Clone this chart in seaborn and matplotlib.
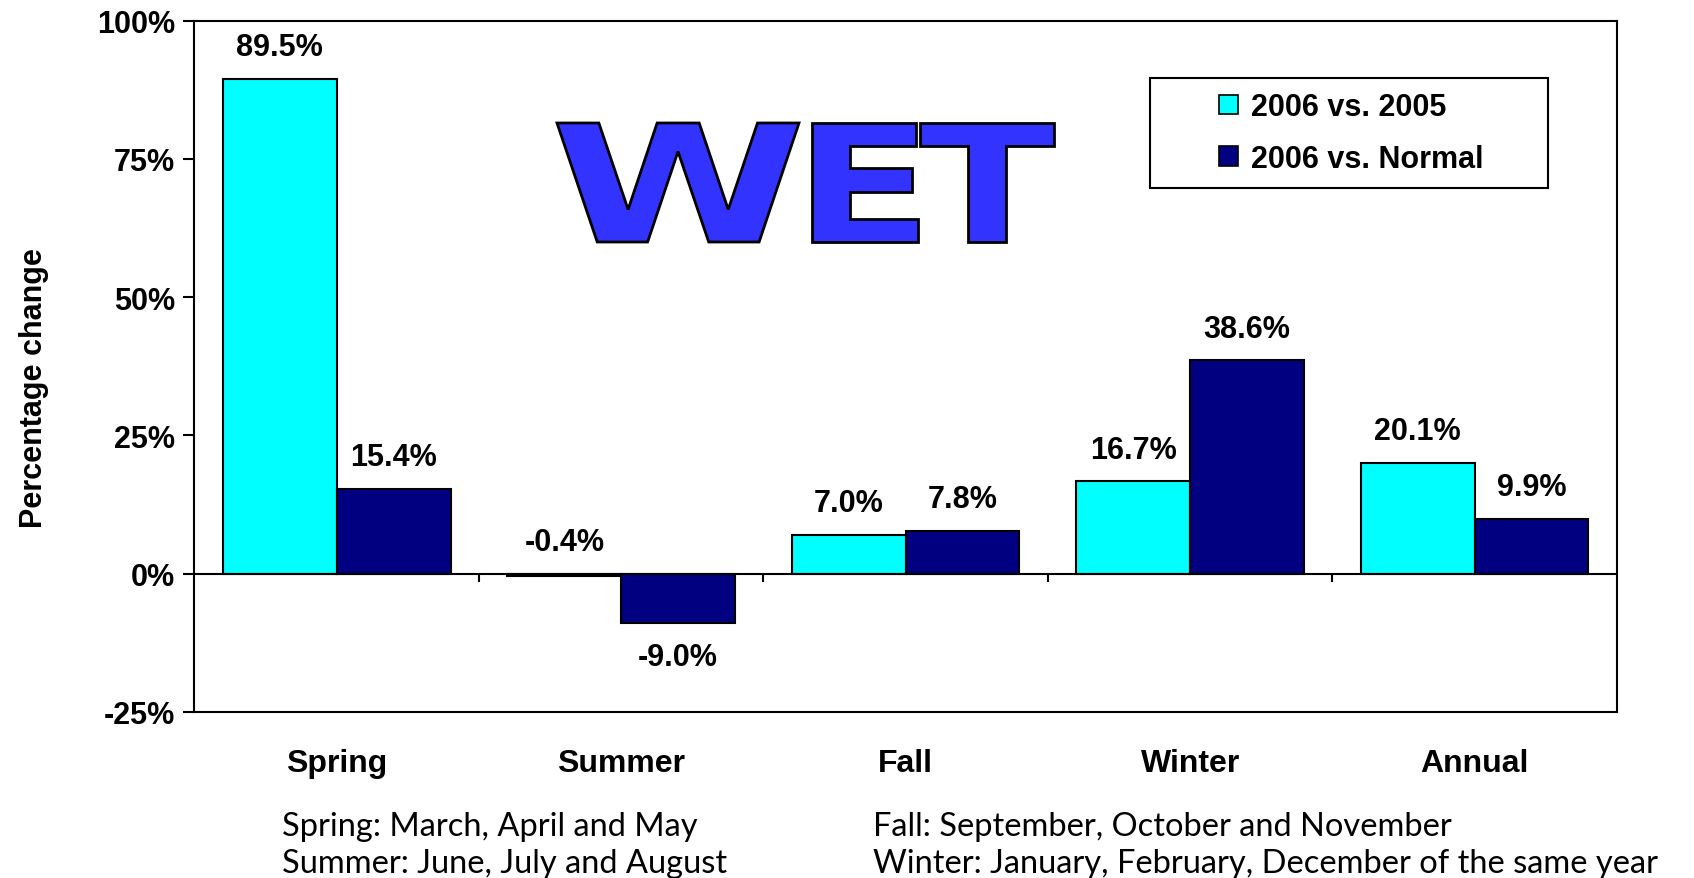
import pandas as pd
import matplotlib
matplotlib.use('Agg')
import matplotlib.pyplot as plt
import seaborn as sns
from matplotlib.textpath import TextPath
from matplotlib.patches import PathPatch, Rectangle
from matplotlib.font_manager import FontProperties
from matplotlib.transforms import Affine2D
from matplotlib.ticker import FuncFormatter

# Data
seasons = ['Spring', 'Summer', 'Fall', 'Winter', 'Annual']
vs_2005 = [89.5, -0.4, 7.0, 16.7, 20.1]
vs_normal = [15.4, -9.0, 7.8, 38.6, 9.9]
series_names = ['2006 vs. 2005', '2006 vs. Normal']
colors = ['#00FFFF', '#000080']
yticks = [-25, 0, 25, 50, 75, 100]
notes_left = ['Spring: March, April and May', 'Summer: June, July and August']
notes_right = ['Fall: September, October and November',
               'Winter: January, February, December of the same year']

df = pd.DataFrame({
    'season': seasons * 2,
    'change': vs_2005 + vs_normal,
    'series': [series_names[0]] * len(seasons) + [series_names[1]] * len(seasons),
})

sns.set_theme(style='white')
plt.rcParams['font.family'] = ['Liberation Sans', 'DejaVu Sans']
for k in ['text.color', 'axes.labelcolor', 'xtick.color', 'ytick.color']:
    plt.rcParams[k] = 'black'

fig = plt.figure(figsize=(16.94, 8.79), dpi=100)
ax = fig.add_axes([0.1148, 0.1889, 0.8397, 0.7865])

sns.barplot(data=df, x='season', y='change', hue='series', palette=colors, saturation=1,
            width=0.8, edgecolor='black', linewidth=1.5, ax=ax, legend=True)

# value labels (small negatives sit above the zero line, as in the original)
for cont in ax.containers:
    for bar in cont:
        v = bar.get_height()
        x = bar.get_x() + bar.get_width() / 2
        if v > -1:
            ax.annotate(f'{v:.1f}%', (x, max(v, 0)), xytext=(0, 12), textcoords='offset points',
                        ha='center', va='bottom', fontsize=22, fontweight='bold')
        else:
            ax.annotate(f'{v:.1f}%', (x, v), xytext=(0, -13), textcoords='offset points',
                        ha='center', va='top', fontsize=22, fontweight='bold')

# zero line and group separators
ax.axhline(0, color='black', lw=1.5, zorder=3)
ax.vlines([i + 0.5 for i in range(len(seasons) - 1)], -1.5, 0, color='black', lw=1.5)

ax.set_ylim(-25, 100)
ax.set_xlim(-0.5, len(seasons) - 0.5)
ax.set_yticks(yticks)
ax.yaxis.set_major_formatter(FuncFormatter(lambda v, p: f'{v:.0f}%'))
ax.tick_params(axis='y', left=True, length=8, width=1.5, direction='out', labelsize=22, pad=6)
ax.tick_params(axis='x', bottom=False, length=0, labelsize=23, pad=26)
for lbl in ax.get_yticklabels() + ax.get_xticklabels():
    lbl.set_fontweight('bold')
for s in ax.spines.values():
    s.set_color('black')
    s.set_linewidth(1.5)

ax.set_xlabel('')
ax.set_ylabel('Percentage change', fontsize=22, fontweight='bold')
ax.yaxis.set_label_coords(-0.102, 0.47)

# legend with its own square frame
ax.add_patch(Rectangle((0.6717, 0.7579), 0.9515 - 0.6717, 0.917 - 0.7579, transform=ax.transAxes,
                       facecolor='white', edgecolor='black', lw=1.5, zorder=4))
leg = ax.legend(loc='center', bbox_to_anchor=(0.8135, 0.8374), frameon=False,
                prop={'size': 22, 'weight': 'bold'}, handlelength=0.6, handleheight=0.6,
                handletextpad=0.45, labelspacing=0.7, borderpad=0)
leg.set_zorder(5)
for h in leg.legend_handles:
    h.set_edgecolor('black')
    h.set_linewidth(1.2)

# big WET word, one letter at a time
letters = ['W', 'E', 'T']
letter_x = [(557, 799), (812, 918), (920, 1054)]
top, bottom = 124, 243
fp = FontProperties(family='DejaVu Sans', weight='bold')
for ch, (lx0, lx1) in zip(letters, letter_x):
    tp = TextPath((0, 0), ch, size=1, prop=fp)
    ext = tp.get_extents()
    x0, x1 = lx0 / 1694, lx1 / 1694
    y0, y1 = 1 - bottom / 879, 1 - top / 879
    tr = (Affine2D().translate(-ext.x0, -ext.y0)
          .scale((x1 - x0) / ext.width, (y1 - y0) / ext.height)
          .translate(x0, y0) + fig.transFigure)
    fig.add_artist(PathPatch(tp, facecolor='#3333FF', edgecolor='black', lw=2, transform=tr))

# footnotes
for i, (a, b) in enumerate(zip(notes_left, notes_right)):
    yy = 0.059 - i * 0.042
    fig.text(0.1665, yy, a, fontsize=23.5, family='Lato', va='center')
    fig.text(0.5153, yy, b, fontsize=23.5, family='Lato', va='center')

fig.savefig('out.png', dpi=100)
